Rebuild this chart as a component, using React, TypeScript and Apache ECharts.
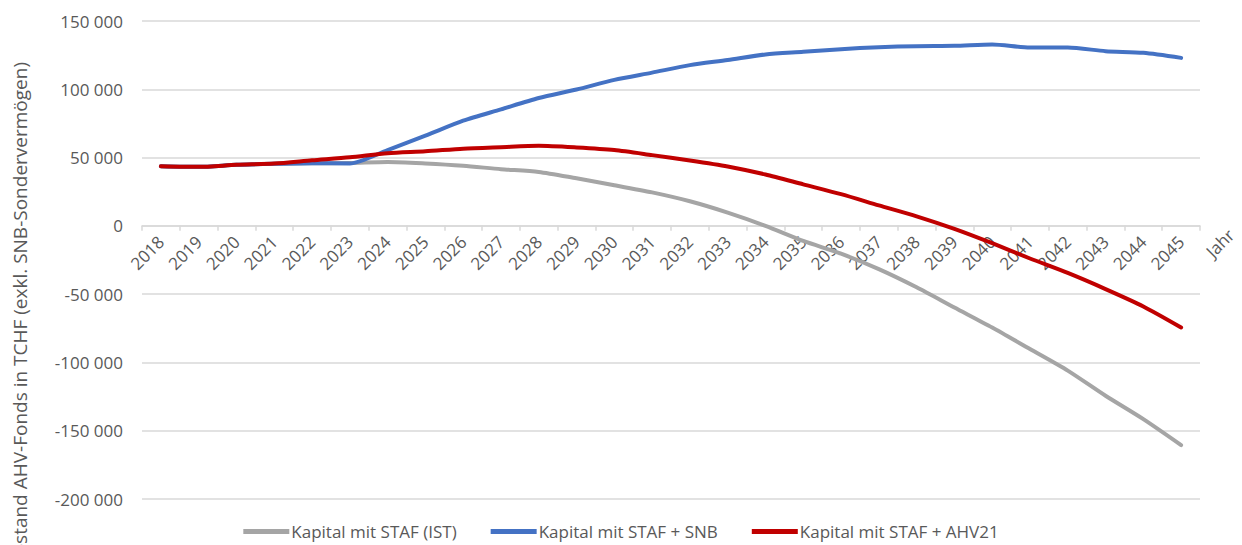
import React, { useEffect, useRef } from "react";
import * as echarts from "echarts";

// Years on the category axis
const YEARS: string[] = [
  "2018", "2019", "2020", "2021", "2022", "2023", "2024", "2025", "2026", "2027",
  "2028", "2029", "2030", "2031", "2032", "2033", "2034", "2035", "2036", "2037",
  "2038", "2039", "2040", "2041", "2042", "2043", "2044", "2045",
];

// Fund capital in TCHF per scenario
const KAPITAL_IST: number[] = [
  43700, 43200, 44700, 45400, 45800, 46000, 46800, 45700, 44000, 41500,
  39500, 34800, 29800, 24500, 18000, 9700, 0, -11000, -20400, -31700,
  -45000, -59800, -74400, -90200, -106000, -124400, -141500, -160500,
];

const KAPITAL_SNB: number[] = [
  43700, 43200, 44700, 45400, 45800, 45700, 55500, 66000, 77000, 85300,
  93600, 99800, 106900, 112200, 117700, 121400, 125500, 127400, 129400, 130800,
  131600, 131800, 132800, 130600, 130600, 127900, 126700, 123000,
];

const KAPITAL_AHV21: number[] = [
  43700, 43200, 44700, 45600, 48000, 50200, 53200, 54600, 56500, 57600,
  58600, 57400, 55500, 51800, 47900, 43500, 37600, 30400, 23200, 15000,
  7000, -2200, -12700, -23900, -34500, -46300, -59000, -74400,
];

const SERIES_NAMES: string[] = [
  "Kapital mit STAF (IST)",
  "Kapital mit STAF + SNB",
  "Kapital mit STAF + AHV21",
];

const Y_TITLE = "Bestand AHV-Fonds in TCHF (exkl. SNB-Sondervermögen)";
const X_TITLE = "Jahr";

const Y_MIN = -200000;
const Y_MAX = 150000;
const Y_STEP = 50000;

const FONT = "'Open Sans', 'Noto Sans', sans-serif";
const TEXT_COLOR = "#595959";
const GRID_COLOR = "#d9d9d9";

const GRID_TOP = 21;
const GRID_BOTTOM = 46;
const CHART_H = 545;

function formatThousands(v: number): string {
  const sign = v < 0 ? "-" : "";
  const s = String(Math.abs(v));
  return sign + s.replace(/\B(?=(\d{3})+(?!\d))/g, " ");
}

export default function App() {
  const ref = useRef<HTMLDivElement>(null);

  useEffect(() => {
    document.body.style.margin = "0";
    if (!ref.current) return;
    const chart = echarts.init(ref.current, undefined, { renderer: "svg" });

    // The category axis sits on the zero line; shift it up from the grid bottom.
    const plotH = CHART_H - GRID_TOP - GRID_BOTTOM;
    const zeroOffset = -plotH * (0 - Y_MIN) / (Y_MAX - Y_MIN);

    const lineSeries = (name: string, data: number[], color: string, z: number) => ({
      name,
      type: "line",
      data,
      symbol: "none",
      smooth: 0.25,
      z,
      color,
      lineStyle: { color, width: 4, cap: "round", join: "round" },
    });

    chart.setOption({
      animation: false,
      textStyle: { fontFamily: FONT },
      grid: { left: 142, right: 42, top: GRID_TOP, bottom: GRID_BOTTOM, containLabel: false },
      xAxis: {
        type: "category",
        data: YEARS,
        boundaryGap: true,
        offset: zeroOffset,
        axisLine: { onZero: false, lineStyle: { color: GRID_COLOR, width: 1.5 } },
        axisTick: { show: true, length: 5, lineStyle: { color: GRID_COLOR, width: 1.5 } },
        axisLabel: {
          interval: 0,
          rotate: 45,
          margin: 13,
          color: TEXT_COLOR,
          fontSize: 17,
          fontFamily: FONT,
        },
        splitLine: { show: false },
      },
      yAxis: {
        type: "value",
        min: Y_MIN,
        max: Y_MAX,
        interval: Y_STEP,
        axisLine: { show: false },
        axisTick: { show: false },
        splitLine: { lineStyle: { color: GRID_COLOR, width: 1.5 } },
        axisLabel: {
          margin: 19,
          color: TEXT_COLOR,
          fontSize: 17,
          fontFamily: FONT,
          formatter: (v: number) => formatThousands(v),
        },
      },
      legend: {
        left: "center",
        top: 518,
        icon: "rect",
        itemWidth: 46,
        itemHeight: 5,
        itemGap: 34,
        textStyle: { color: TEXT_COLOR, fontSize: 17, fontFamily: FONT, padding: [0, 0, 0, -3] },
        data: SERIES_NAMES,
      },
      graphic: [
        {
          type: "text",
          x: 20,
          y: 62,
          rotation: Math.PI / 2,
          style: {
            text: Y_TITLE,
            fill: TEXT_COLOR,
            fontSize: 19,
            fontFamily: FONT,
            align: "right",
            verticalAlign: "middle",
          },
        },
        {
          type: "text",
          x: 1231,
          y: 232,
          rotation: Math.PI / 4,
          style: {
            text: X_TITLE,
            fill: TEXT_COLOR,
            fontSize: 17,
            fontFamily: FONT,
            align: "right",
            verticalAlign: "middle",
          },
        },
      ],
      series: [
        lineSeries(SERIES_NAMES[0], KAPITAL_IST, "#a5a5a5", 2),
        lineSeries(SERIES_NAMES[1], KAPITAL_SNB, "#4472c4", 3),
        lineSeries(SERIES_NAMES[2], KAPITAL_AHV21, "#c00000", 4),
      ],
    });

    return () => {
      chart.dispose();
    };
  }, []);

  return <div ref={ref} style={{ width: 1242, height: CHART_H }} />;
}
